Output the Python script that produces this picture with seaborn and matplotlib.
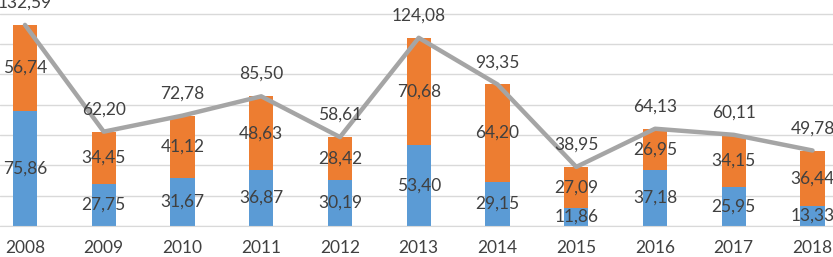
import numpy as np
import pandas as pd
import matplotlib
matplotlib.use("Agg")
import matplotlib.pyplot as plt
import seaborn as sns

# data
years = ["2008", "2009", "2010", "2011", "2012", "2013", "2014", "2015", "2016", "2017", "2018"]
blue_vals = [75.86, 27.75, 31.67, 36.87, 30.19, 53.40, 29.15, 11.86, 37.18, 25.95, 13.33]
orange_vals = [56.74, 34.45, 41.12, 48.63, 28.42, 70.68, 64.20, 27.09, 26.95, 34.15, 36.44]
totals = [132.59, 62.20, 72.78, 85.50, 58.61, 124.08, 93.35, 38.95, 64.13, 60.11, 49.78]

df = pd.DataFrame({"year": years, "blue": blue_vals, "orange": orange_vals, "total": totals})
df["pos"] = np.arange(len(df))

sns.set_style("white")
plt.rcParams["font.family"] = ["Lato", "DejaVu Sans"]
txt_col = "#404040"
fs = 12.5

fig = plt.figure(figsize=(8.33, 2.57), dpi=100)
ax = fig.add_axes([0, 31 / 257, 1, 226 / 257])

sns.barplot(data=df, x="year", y="blue", color="#5B9BD5", width=0.31,
            saturation=1, linewidth=0, ax=ax, zorder=2)
sns.barplot(data=df, x="year", y="orange", bottom=df["blue"], color="#ED7D31",
            width=0.31, saturation=1, linewidth=0, ax=ax, zorder=2)
sns.lineplot(data=df, x="pos", y="total", color="#A5A5A5", linewidth=3.2,
             ax=ax, zorder=3)

def fmt(v):
    return f"{v:.2f}".replace(".", ",")

ax.bar_label(ax.containers[0], labels=[fmt(v) for v in blue_vals],
             label_type="center", fontsize=fs, color=txt_col, zorder=4)
ax.bar_label(ax.containers[1], labels=[fmt(v) for v in orange_vals],
             label_type="center", fontsize=fs, color=txt_col, zorder=4)
for p, t in zip(df["pos"], totals):
    ax.annotate(fmt(t), (p, t), xytext=(0, 16), textcoords="offset points",
                ha="center", va="center", fontsize=fs, color=txt_col,
                annotation_clip=False, zorder=4)

ax.set_ylim(0, 149)
ax.set_xlim(-0.317, 10.26)
ax.set_yticks(np.arange(0, 141, 20))
ax.yaxis.grid(True, color="#D9D9D9", linewidth=1, zorder=0)
ax.set_axisbelow(True)
ax.tick_params(axis="y", left=False, labelleft=False)
ax.tick_params(axis="x", length=0, pad=10, labelsize=fs, labelcolor=txt_col)
ax.set_xlabel("")
ax.set_ylabel("")
for s in ["top", "left", "right"]:
    ax.spines[s].set_visible(False)
ax.spines["bottom"].set_color("#D9D9D9")

fig.savefig("out.png", dpi=100)
